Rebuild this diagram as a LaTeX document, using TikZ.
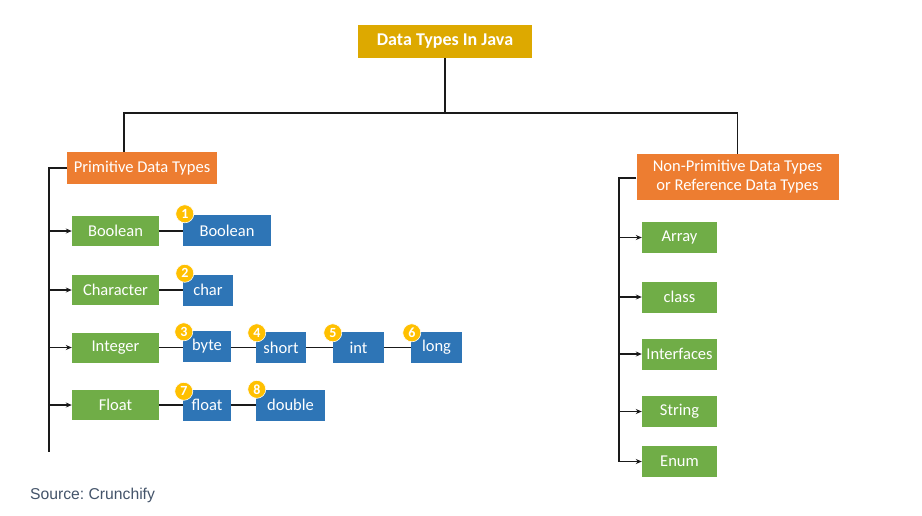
\documentclass[tikz,border=0pt]{standalone}
\usepackage{fontspec}
\setmainfont{Carlito}
\newfontfamily\arialf{Liberation Sans}
\usetikzlibrary{arrows.meta,calc}
\frenchspacing
\definecolor{gold}{HTML}{DDA900}
\definecolor{orng}{HTML}{ED7D31}
\definecolor{grn}{HTML}{70AD47}
\definecolor{blu}{HTML}{2E75B6}
\definecolor{yel}{HTML}{FFC000}
\definecolor{srcc}{HTML}{44546A}
\definecolor{ln}{HTML}{1A1A1A}
\tikzset{
  x=1pt,y=-1pt,
  box/.style={inner sep=0pt,text=white,font=\fontsize{16.5}{19}\selectfont,align=center},
  titlebox/.style={box,fill=gold,font=\fontsize{18}{20}\selectfont\bfseries,minimum width=174pt,minimum height=33pt},
  catbox/.style={box,fill=orng},
  gbox/.style={box,fill=grn,minimum height=30pt},
  bbox/.style={box,fill=blu,minimum height=31pt},
  badge/.style={circle,fill=yel,draw=white,line width=0.6pt,minimum size=18pt,inner sep=0pt,text=white,font=\fontsize{14}{14}\selectfont\bfseries},
  conn/.style={draw=ln,line width=1.6pt},
  arr/.style={conn,-{Stealth[length=6pt,width=5pt]}},
}
\begin{document}
\begin{tikzpicture}
\useasboundingbox[fill=white] (0,0) rectangle (922,515);
% title
\node[titlebox] (title) at (445,41.5) {Data Types In Java};
% categories
\node[catbox,minimum width=150pt,minimum height=32pt] (prim) at (142,168) {Primitive Data Types};
\node[catbox,minimum width=202pt,minimum height=46pt] (nonprim) at (737.5,177) {Non-Primitive Data Types\\or Reference Data Types};
% bus
\coordinate (bus) at (445,113);
\coordinate (pl) at (124,113);
\draw[conn] (title.south) -- (bus);
\draw[conn] (bus) -- (pl) -- (pl |- prim.north);
\draw[conn] (bus) -| (nonprim.north);
% primitive left column
\node[gbox,minimum width=87pt] (gbool) at (115.5,231) {Boolean};
\node[gbox,minimum width=87pt] (gchar) at (115.5,290) {Character};
\node[gbox,minimum width=87pt] (gint) at (115.5,347.5) {Integer};
\node[gbox,minimum width=87pt] (gfloat) at (115.5,405) {Float};
\coordinate (ps) at (49,168);
\coordinate (pe) at (49,452);
\draw[conn] (prim.west) -- (ps) -- (pe);
\foreach \n in {gbool,gchar,gint,gfloat}{
  \draw[arr] (ps |- \n.west) -- (\n.west);
}
% blue boxes
\node[bbox,minimum width=88pt] (bbool) at (227,230.5) {Boolean};
\node[bbox,minimum width=50pt] (bchar) at (208,290) {char};
\node[bbox,minimum width=48pt] (bbyte) at (207,346.5) {byte};
\node[bbox,minimum width=50pt] (bshort) at (281,347.5) {short};
\node[bbox,minimum width=51pt] (bint) at (358.5,347.5) {int};
\node[bbox,minimum width=51pt] (blong) at (436.5,347.5) {long};
\node[bbox,minimum width=48pt] (bfloat) at (207,405) {float};
\node[bbox,minimum width=69pt] (bdouble) at (290.5,405) {double};
\draw[conn] (gbool.east) -- (gbool.east -| bbool.west);
\draw[conn] (gchar.east) -- (bchar.west);
\draw[conn] (gint.east) -- (gint.east -| bbyte.west);
\draw[conn] (bbyte.east |- bshort.west) -- (bshort.west);
\draw[conn] (bshort.east) -- (bint.west);
\draw[conn] (bint.east) -- (blong.west);
\draw[conn] (gfloat.east) -- (bfloat.west);
\draw[conn] (bfloat.east) -- (bdouble.west);
% badges
\node[badge] (n1) at ([xshift=2pt,yshift=1pt]bbool.north west) {1};
\node[badge] (n2) at ([xshift=2pt,yshift=1pt]bchar.north west) {2};
\node[badge] (n3) at ([xshift=1pt,yshift=-1pt]bbyte.north west) {3};
\node[badge] (n4) at ([xshift=1pt,yshift=-1pt]bshort.north west) {4};
\node[badge] (n5) at ([xshift=0pt,yshift=-1pt]bint.north west) {5};
\node[badge] (n6) at ([xshift=1pt,yshift=-1pt]blong.north west) {6};
\node[badge] (n7) at ([xshift=1pt,yshift=-2pt]bfloat.north west) {7};
\node[badge] (n8) at ([xshift=1pt,yshift=0pt]bdouble.north west) {8};
% non-primitive column
\node[gbox,minimum width=75pt,minimum height=31pt] (array) at (679.5,237.5) {Array};
\node[gbox,minimum width=75pt,minimum height=31pt] (class) at (679.5,297) {class};
\node[gbox,minimum width=75pt,minimum height=31pt] (iface) at (679.5,354) {Interfaces};
\node[gbox,minimum width=75pt,minimum height=31pt] (string) at (679.5,411.5) {String};
\node[gbox,minimum width=75pt,minimum height=31pt] (enum) at (679.5,461.5) {Enum};
\coordinate (rs) at (619,178);
\draw[conn] (nonprim.west |- rs) -- (rs) -- (rs |- enum.west);
\foreach \n in {array,class,iface,string,enum}{
  \draw[arr] (rs |- \n.west) -- (\n.west);
}
% source
\node[anchor=base west,inner sep=0pt,text=srcc,font=\arialf\fontsize{15.7}{17}\selectfont] (src) at (30,499) {Source: Crunchify};
\end{tikzpicture}
\end{document}
